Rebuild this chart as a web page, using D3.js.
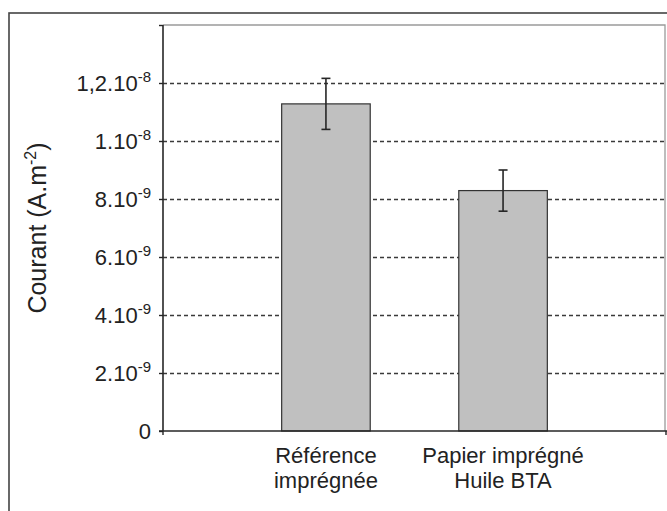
<!DOCTYPE html>
<html>
<head>
<meta charset="utf-8">
<script src="https://cdn.jsdelivr.net/npm/d3@7"></script>
<style>
  html, body { margin: 0; padding: 0; background: #fff; }
  svg { display: block; font-family: "Liberation Sans", Arial, sans-serif; }
</style>
</head>
<body>
<div id="chart"></div>
<script>
// ---- data ----
const categories = ["Référence imprégnée", "Papier imprégné Huile BTA"];
const categoryLines = [["Référence", "imprégnée"], ["Papier imprégné", "Huile BTA"]];
const values = [1.128e-8, 8.29e-9];
const errors = [0.88e-9, 0.71e-9];
const tickValues = [0, 2e-9, 4e-9, 6e-9, 8e-9, 1e-8, 1.2e-8, 1.4e-8];
const tickBase = ["0", "2.10", "4.10", "6.10", "8.10", "1.10", "1,2.10", ""];
const tickExp = ["", "-9", "-9", "-9", "-9", "-8", "-8", ""];
const yTitle = "Courant (A.m";
const yTitleExp = "-2";

// ---- layout ----
const W = 667, H = 511;
const pL = 163, pR = 666, pT = 25, pB = 431;
const ink = "#262626";

const svg = d3.select("#chart").append("svg")
  .attr("width", W).attr("height", H);

// outer frame (extends past the picture edges)
svg.append("rect")
  .attr("x", 9).attr("y", 13)
  .attr("width", W + 20).attr("height", H + 20)
  .attr("fill", "none").attr("stroke", "#444").attr("stroke-width", 1.6);

const y = d3.scaleLinear().domain([0, 1.4e-8]).range([pB, pT]);
const x = d3.scaleBand().domain(categories).range([pL, pR])
  .paddingInner(0.5).paddingOuter(0.67);

// plot area frame (top & right, light gray)
svg.append("path")
  .attr("d", `M${pL},${pT}H${pR - 1}V${pB}`)
  .attr("fill", "none").attr("stroke", "#9a9a9a").attr("stroke-width", 1.3);

// gridlines
svg.append("g").selectAll("line")
  .data(tickValues.filter(v => v > 0 && v < 1.4e-8))
  .join("line")
  .attr("x1", pL).attr("x2", pR)
  .attr("y1", d => Math.round(y(d)) + 0.5).attr("y2", d => Math.round(y(d)) + 0.5)
  .attr("stroke", "#3a3a3a").attr("stroke-width", 1.3)
  .attr("stroke-dasharray", "4,3");

// bars
svg.append("g").selectAll("rect")
  .data(values)
  .join("rect")
  .attr("x", (d, i) => x(categories[i]))
  .attr("y", d => y(d))
  .attr("width", x.bandwidth())
  .attr("height", d => y(0) - y(d))
  .attr("fill", "#c0c0c0").attr("stroke", "#333").attr("stroke-width", 1.2);

// error bars
const eg = svg.append("g").attr("stroke", ink).attr("stroke-width", 1.6);
values.forEach((v, i) => {
  const cx = x(categories[i]) + x.bandwidth() / 2;
  const y1 = y(v + errors[i]), y2 = y(v - errors[i]);
  eg.append("line").attr("x1", cx).attr("x2", cx).attr("y1", y1).attr("y2", y2);
  eg.append("line").attr("x1", cx - 4.5).attr("x2", cx + 4.5).attr("y1", y1).attr("y2", y1);
  eg.append("line").attr("x1", cx - 4.5).attr("x2", cx + 4.5).attr("y1", y2).attr("y2", y2);
});

// y axis
const yAxis = d3.axisLeft(y).tickValues(tickValues).tickSize(4).tickFormat("");
const ya = svg.append("g").attr("transform", `translate(${pL},0)`).call(yAxis);
ya.select(".domain").attr("stroke", ink).attr("stroke-width", 1.6).attr("d", `M0,${pT}V${pB}`);
ya.selectAll(".tick line").attr("stroke", ink).attr("stroke-width", 1.4);

// y tick labels with superscripts
const lab = svg.append("g").attr("fill", "#222");
tickValues.forEach((v, i) => {
  if (!tickBase[i]) return;
  const t = lab.append("text")
    .attr("x", 151).attr("y", y(v) + 8)
    .attr("text-anchor", "end")
    .attr("font-size", 22);
  t.append("tspan").text(tickBase[i]);
  if (tickExp[i]) {
    t.append("tspan").attr("font-size", 15).attr("dy", -9).text(tickExp[i]);
  }
});

// x axis line
svg.append("path")
  .attr("d", `M${pL - 4},${pB}H${pR + 1}`)
  .attr("stroke", ink).attr("stroke-width", 1.6).attr("fill", "none");
svg.append("g").selectAll("line")
  .data([pL, pR])
  .join("line")
  .attr("x1", d => d).attr("x2", d => d)
  .attr("y1", pB).attr("y2", pB + 4)
  .attr("stroke", ink).attr("stroke-width", 1.4);

// category labels
categories.forEach((c, i) => {
  const cx = x(c) + x.bandwidth() / 2;
  categoryLines[i].forEach((line, j) => {
    svg.append("text")
      .attr("x", cx).attr("y", 463 + j * 25)
      .attr("text-anchor", "middle")
      .attr("font-size", 22).attr("fill", "#222")
      .text(line);
  });
});

// y title
const tt = svg.append("text")
  .attr("transform", "translate(46,228) rotate(-90)")
  .attr("text-anchor", "middle")
  .attr("font-size", 25).attr("fill", "#222");
tt.append("tspan").text(yTitle);
tt.append("tspan").attr("font-size", 16).attr("dy", -10).text(yTitleExp);
tt.append("tspan").attr("dy", 10).text(")");
</script>
</body>
</html>
